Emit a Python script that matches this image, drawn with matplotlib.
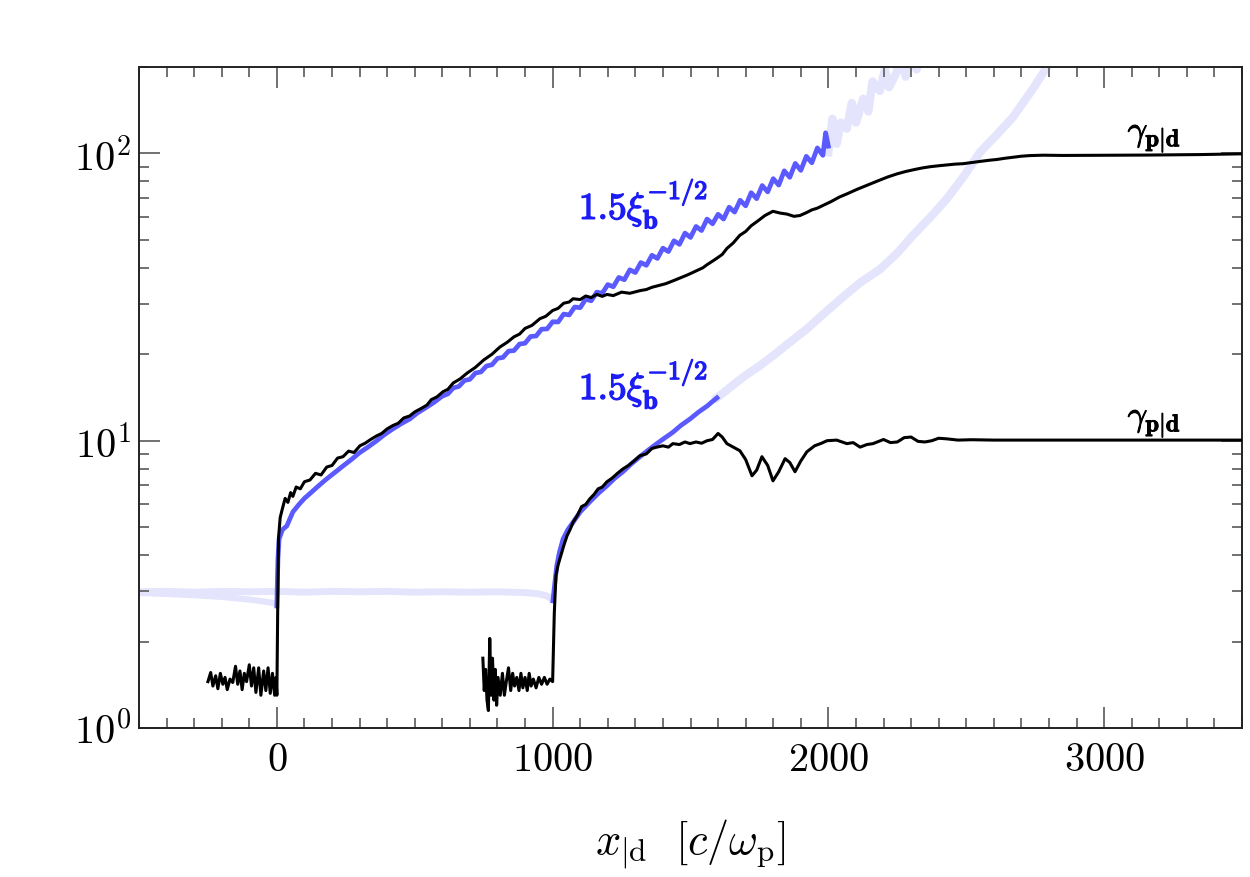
import matplotlib
matplotlib.use("Agg")
import matplotlib.pyplot as plt
from matplotlib.ticker import MultipleLocator, LogLocator, NullFormatter
import matplotlib.patheffects as pe

plt.rcParams['font.family'] = 'serif'
plt.rcParams['font.serif'] = ['cmr10', 'DejaVu Serif']
plt.rcParams['mathtext.fontset'] = 'cm'
plt.rcParams['axes.formatter.use_mathtext'] = True
plt.rcParams['axes.unicode_minus'] = False

# ---------------- data ----------------
# upper shock: black gamma profile
up_black_x = [-250, -240, -232, -222, -214, -205, -196, -188, -180, -170, -160, -150, -142, -134, -126,
              -118, -110, -100, -92, -84, -76, -66, -58, -48, -40, -32, -24, -16, -8, -3, 0,
              3, 6, 12, 20, 30, 40, 50, 58, 70, 85, 100, 120, 140, 160, 181, 200, 220, 240, 260, 280,
              301, 320, 340, 362, 380, 400, 421, 440, 460, 482, 500, 520, 544, 560, 580, 602, 620, 640,
              664, 690, 720, 750, 780, 809, 835, 860, 880, 900, 925, 954, 975, 1000, 1020, 1040, 1060,
              1074, 1100, 1120, 1140, 1160, 1180, 1197, 1220, 1250, 1280, 1317, 1340, 1360, 1380, 1410,
              1436, 1460, 1490, 1520, 1545, 1560, 1590, 1615, 1632, 1655, 1679, 1700, 1720, 1745, 1770,
              1799, 1825, 1850, 1875, 1897, 1920, 1940, 1960, 1980, 2010, 2040, 2070, 2104, 2140, 2180,
              2215, 2249, 2280, 2310, 2340, 2369, 2400, 2430, 2460, 2488, 2520, 2550, 2580, 2612, 2640,
              2670, 2700, 2731, 2780, 2850, 2950, 3050, 3150, 3250, 3350, 3450, 3500]
up_black_y = [1.45, 1.56, 1.40, 1.52, 1.37, 1.55, 1.42, 1.50, 1.36, 1.48, 1.44, 1.64, 1.42, 1.58, 1.36,
              1.55, 1.45, 1.66, 1.40, 1.62, 1.33, 1.62, 1.30, 1.58, 1.35, 1.62, 1.32, 1.55, 1.30, 1.50, 1.30,
              2.6, 4.6, 5.4, 5.8, 6.3, 6.1, 6.6, 6.4, 6.9, 6.8, 7.2, 7.3, 7.7, 7.6, 8.1, 8.2, 8.7, 8.8, 9.2, 9.1,
              9.6, 9.8, 10.1, 10.4, 10.6, 11.0, 11.3, 11.5, 12.0, 12.2, 12.6, 12.9, 13.3, 13.9, 14.2, 14.8,
              15.1, 15.9, 16.4, 17.2, 18.0, 19.1, 20.0, 21.2, 22.0, 23.0, 23.5, 24.6, 25.2, 26.6, 27.1, 28.4,
              28.9, 30.1, 30.4, 31.2, 31.0, 31.9, 31.5, 32.3, 31.8, 32.3, 32.0, 32.9, 32.6, 33.3, 33.6, 34.2,
              34.6, 35.2, 36.0, 36.8, 37.8, 39.0, 40.0, 41.0, 42.8, 44.5, 46.7, 48.8, 51.9, 53.5, 56.0, 58.3,
              60.8, 62.9, 62.0, 61.5, 60.4, 60.8, 62.2, 63.6, 64.5, 65.9, 68.0, 70.5, 72.5, 75.0, 77.5, 80.3,
              82.8, 84.9, 86.5, 87.8, 89.0, 89.9, 90.6, 91.2, 91.8, 92.1, 93.0, 93.8, 94.6, 95.3, 96.2, 97.0,
              97.8, 98.3, 98.6, 98.4, 98.5, 98.6, 98.7, 98.9, 99.1, 99.5, 99.7]

# upper shock: 1.5 xi_b^-1/2 (bright part)
up_blue_x = [0, 2, 4, 8, 20, 36, 58, 80, 100, 120, 150, 181, 210, 240, 270, 301, 330, 362, 390, 421, 450,
             482, 510, 544, 570, 600, 620, 640, 660, 680, 700, 720, 740, 760, 780, 800, 820, 840, 860, 880,
             900, 920, 940, 960, 980, 1000, 1020, 1040, 1060, 1080, 1100, 1120, 1140, 1160, 1180, 1200,
             1220, 1240, 1260, 1280, 1300, 1320, 1340, 1360, 1380, 1400, 1420, 1440, 1460, 1480, 1500,
             1520, 1540, 1560, 1580, 1600, 1620, 1640, 1660, 1680, 1700, 1720, 1740, 1760, 1780, 1800,
             1820, 1840, 1860, 1880, 1900, 1920, 1940, 1960, 1980, 1990, 2000]
up_blue_y = [2.66, 3.3, 3.9, 4.55, 4.9, 5.05, 5.65, 6.0, 6.3, 6.55, 6.95, 7.37, 7.75, 8.17, 8.6, 9.1, 9.5,
             10.0, 10.5, 11.0, 11.45, 11.9, 12.5, 13.1, 13.6, 14.3, 14.55, 15.27, 15.45, 16.2, 16.36, 17.2,
             17.35, 18.2, 18.38, 19.35, 19.5, 20.5, 20.6, 21.7, 21.85, 23.05, 23.15, 24.45, 24.5, 25.95,
             25.9, 27.6, 27.4, 29.2, 29.05, 31.1, 30.7, 32.9, 32.6, 34.95, 34.35, 37.0, 36.35, 39.35, 38.5,
             41.7, 40.8, 44.2, 43.1, 46.8, 45.55, 49.65, 48.25, 52.8, 51.0, 55.7, 53.9, 59.1, 56.9, 61.4,
             59.1, 65.0, 62.5, 68.7, 65.7, 73.0, 69.6, 77.3, 73.5, 81.7, 77.6, 87.0, 82.6, 92.3, 87.3, 97.7,
             92.8, 104.5, 98.5, 118.0, 106.0]

# upper shock: faded parts of 1.5 xi_b^-1/2
up_faint_pre_x = [-500, -400, -300, -200, -100, -50, -10, 0]
up_faint_pre_y = [2.95, 2.93, 2.90, 2.86, 2.80, 2.76, 2.72, 2.68]
up_faint_post_x = [2000, 2015, 2030, 2045, 2067, 2085, 2100, 2126, 2145, 2160, 2187, 2205, 2220, 2249,
                   2265, 2280, 2300, 2320, 2340]
up_faint_post_y = [101, 132, 108, 128, 122, 150, 128, 155, 140, 178, 165, 196, 170, 193, 230, 185, 215, 196, 240]

# lower shock: black gamma profile
lo_black_x = [747, 752, 757, 762, 767, 772, 777, 782, 787, 792, 797, 802, 810, 818, 825, 832, 840, 848,
              855, 862, 870, 878, 885, 892, 900, 908, 915, 922, 930, 940, 950, 960, 970, 980, 990, 1000,
              1006, 1012, 1020, 1027, 1040, 1052, 1063, 1074, 1090, 1105, 1120, 1135, 1150, 1165, 1180,
              1197, 1215, 1235, 1255, 1275, 1295, 1317, 1340, 1360, 1378, 1400, 1420, 1436, 1460, 1480,
              1498, 1520, 1540, 1560, 1580, 1600, 1615, 1632, 1655, 1679, 1700, 1723, 1740, 1759, 1780,
              1799, 1820, 1843, 1860, 1879, 1900, 1922, 1950, 1975, 1995, 2030, 2067, 2090, 2115, 2140,
              2162, 2200, 2225, 2250, 2275, 2300, 2325, 2350, 2375, 2400, 2430, 2470, 2520, 2600, 2800,
              3000, 3200, 3500]
lo_black_y = [1.75, 1.35, 1.60, 1.25, 1.15, 2.05, 1.30, 1.75, 1.25, 1.60, 1.20, 1.50, 1.30, 1.55, 1.30,
              1.45, 1.62, 1.35, 1.55, 1.40, 1.50, 1.35, 1.55, 1.38, 1.50, 1.35, 1.55, 1.40, 1.48, 1.38,
              1.50, 1.42, 1.50, 1.42, 1.48, 1.45, 2.5, 3.4, 3.7, 3.9, 4.3, 4.66, 4.9, 5.2, 5.5, 5.9, 6.0,
              6.28, 6.5, 6.8, 6.9, 7.2, 7.4, 7.7, 7.98, 8.2, 8.5, 8.87, 9.0, 9.4, 9.5, 9.6, 9.5, 9.77, 9.7,
              9.9, 9.77, 9.9, 9.8, 10.0, 10.1, 10.6, 10.3, 9.77, 9.5, 9.23, 8.6, 7.55, 7.9, 8.8, 8.2, 7.25,
              7.8, 8.66, 8.4, 7.8, 8.5, 9.15, 9.6, 9.8, 10.0, 10.05, 9.77, 9.85, 9.5, 9.7, 9.77, 10.1,
              9.85, 9.9, 10.25, 10.3, 9.95, 9.9, 10.0, 10.2, 10.15, 10.05, 10.08, 10.05, 10.05, 10.05,
              10.05, 10.05]

# lower shock: 1.5 xi_b^-1/2 (bright part)
lo_blue_x = [1001, 1008, 1015, 1025, 1038, 1055, 1074, 1100, 1135, 1165, 1197, 1225, 1255, 1285, 1317,
             1345, 1378, 1405, 1436, 1465, 1498, 1530, 1560, 1580, 1596]
lo_blue_y = [2.77, 3.2, 3.67, 4.1, 4.55, 4.9, 5.2, 5.65, 6.13, 6.55, 6.97, 7.4, 7.8, 8.3, 8.8, 9.25, 9.77,
             10.2, 10.7, 11.3, 11.9, 12.6, 13.2, 13.7, 14.1]

# lower shock: faded parts
lo_faint_pre_x = [-500, -400, -300, -200, -100, 0, 100, 200, 300, 400, 500, 600, 700, 800, 900, 950,
                  980, 1000]
lo_faint_pre_y = [2.98, 2.99, 2.97, 2.99, 2.98, 2.99, 2.97, 2.99, 2.98, 2.99, 2.97, 2.98, 2.97, 2.98,
                  2.96, 2.93, 2.88, 2.80]
lo_faint_post_x = [1596, 1650, 1700, 1750, 1800, 1860, 1922, 1980, 2042, 2115, 2187, 2250, 2307, 2370,
                   2430, 2490, 2550, 2610, 2670, 2710, 2742, 2770, 2800, 2820]
lo_faint_post_y = [14.1, 15.5, 16.9, 18.2, 19.8, 22.0, 24.5, 27.5, 31.0, 35.5, 39.5, 45.0, 51.9, 60.0,
                   69.6, 83.0, 101, 116, 134, 152, 168, 185, 205, 220]

xi_label = r'$\mathbf{1.5}\xi_{\mathbf{b}}^{\mathbf{-1/2}}$'
gam_label = r'$\gamma_{\mathbf{p|d}}$'

# ---------------- figure ----------------
fig = plt.figure(figsize=(12.5, 8.78), dpi=100)
ax = fig.add_axes([0.1112, 0.1697, 0.8824, 0.7529])

blue = '#5a5aff'
faint = '#e4e4fc'
text_blue = '#1c1cf5'

ax.plot(lo_faint_pre_x, lo_faint_pre_y, color=faint, lw=5, zorder=1, solid_capstyle='butt')
ax.plot(up_faint_pre_x, up_faint_pre_y, color=faint, lw=4.5, zorder=1, solid_capstyle='butt')
ax.plot(up_faint_post_x, up_faint_post_y, color=faint, lw=6, zorder=1)
ax.plot(lo_faint_post_x, lo_faint_post_y, color=faint, lw=6, zorder=1)

ax.plot(up_blue_x, up_blue_y, color=blue, lw=3.4, zorder=2)
ax.plot(lo_blue_x, lo_blue_y, color=blue, lw=3.4, zorder=2)

ax.plot(up_black_x, up_black_y, color='black', lw=2.2, zorder=3)
ax.plot(lo_black_x, lo_black_y, color='black', lw=2.2, zorder=3)

stroke_b = [pe.withStroke(linewidth=1.0, foreground=text_blue)]
stroke_k = [pe.withStroke(linewidth=0.7, foreground='black')]
ax.text(1095, 67, xi_label, color=text_blue, fontsize=27, va='center', ha='left', path_effects=stroke_b)
ax.text(1095, 15.8, xi_label, color=text_blue, fontsize=27, va='center', ha='left', path_effects=stroke_b)
ax.text(3085, 113, gam_label, color='black', fontsize=25, va='center', ha='left', path_effects=stroke_k)
ax.text(3085, 11.5, gam_label, color='black', fontsize=25, va='center', ha='left', path_effects=stroke_k)

ax.set_yscale('log')
ax.set_xlim(-500, 3500)
ax.set_ylim(1, 200)

ax.xaxis.set_major_locator(MultipleLocator(1000))
ax.xaxis.set_minor_locator(MultipleLocator(100))
ax.yaxis.set_major_locator(LogLocator(base=10))
ax.yaxis.set_minor_locator(LogLocator(base=10, subs=[2, 3, 4, 5, 6, 7, 8, 9]))
ax.yaxis.set_minor_formatter(NullFormatter())

ax.tick_params(which='both', direction='in', top=True, right=True, color='#666666', width=1.3,
               labelsize=29)
ax.tick_params(which='major', length=15)
ax.tick_params(which='minor', length=7.5)
ax.tick_params(axis='x', which='major', pad=10)
ax.tick_params(axis='y', which='major', pad=6)

for s in ax.spines.values():
    s.set_linewidth(1.4)
    s.set_color('#222222')

ax.set_xlabel(r'$x_{|\mathrm{d}}\ \ [c/\omega_\mathrm{p}]$', fontsize=32, labelpad=28)

fig.savefig('out.png', dpi=100)
